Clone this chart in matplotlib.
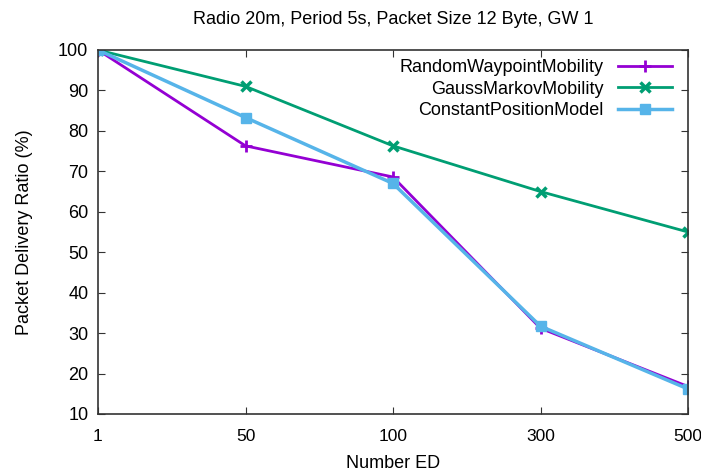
import matplotlib as mpl
mpl.use('Agg')
import matplotlib.pyplot as plt

plt.rcParams['font.family'] = ['Liberation Sans', 'DejaVu Sans']

labels = ['1', '50', '100', '300', '500']
random_wp = [100, 76.3, 68.6, 31.2, 16.8]
gauss_markov = [100, 91.0, 76.3, 65.0, 55.0]
const_pos = [100, 83.3, 67.0, 31.7, 16.2]

fig = plt.figure(figsize=(7.01, 4.76), dpi=100)
ax = fig.add_axes([98/701, 62/476, 590/701, 364/476])

x = range(len(labels))
ax.plot(x, random_wp, color='#9400d3', lw=2, marker='+', ms=9, mew=2, label='RandomWaypointMobility')
ax.plot(x, gauss_markov, color='#009e73', lw=2, marker='x', ms=7, mew=2.5, label='GaussMarkovMobility')
ax.plot(x, const_pos, color='#56b4e9', lw=2.5, marker='s', ms=7, label='ConstantPositionModel')

ax.set_xlim(0, len(labels) - 1)
ax.set_ylim(10, 100)
ax.set_xticks(list(x))
ax.set_xticklabels(labels)
ax.set_yticks(range(10, 101, 10))
ax.tick_params(direction='in', top=True, right=True, labelsize=13, length=5, color='#333333', pad=7)
ax.tick_params(axis='x', pad=11, labelsize=12.5)
for s in ax.spines.values():
    s.set_linewidth(1.2)
    s.set_color('#333333')

ax.set_xlabel('Number ED', fontsize=13, labelpad=8)
ax.set_ylabel('Packet Delivery Ratio (%)', fontsize=13, labelpad=18)
ax.set_title('Radio 20m, Period 5s, Packet Size 12 Byte, GW 1', fontsize=13, pad=19)

leg = ax.legend(loc='upper right', bbox_to_anchor=(0.995, 1.01), frameon=False, markerfirst=False,
                fontsize=13, handlelength=3.0, borderaxespad=0.3, labelspacing=0.25)
for t in leg.get_texts():
    t.set_ha('right')

fig.savefig('out.png', dpi=100)
